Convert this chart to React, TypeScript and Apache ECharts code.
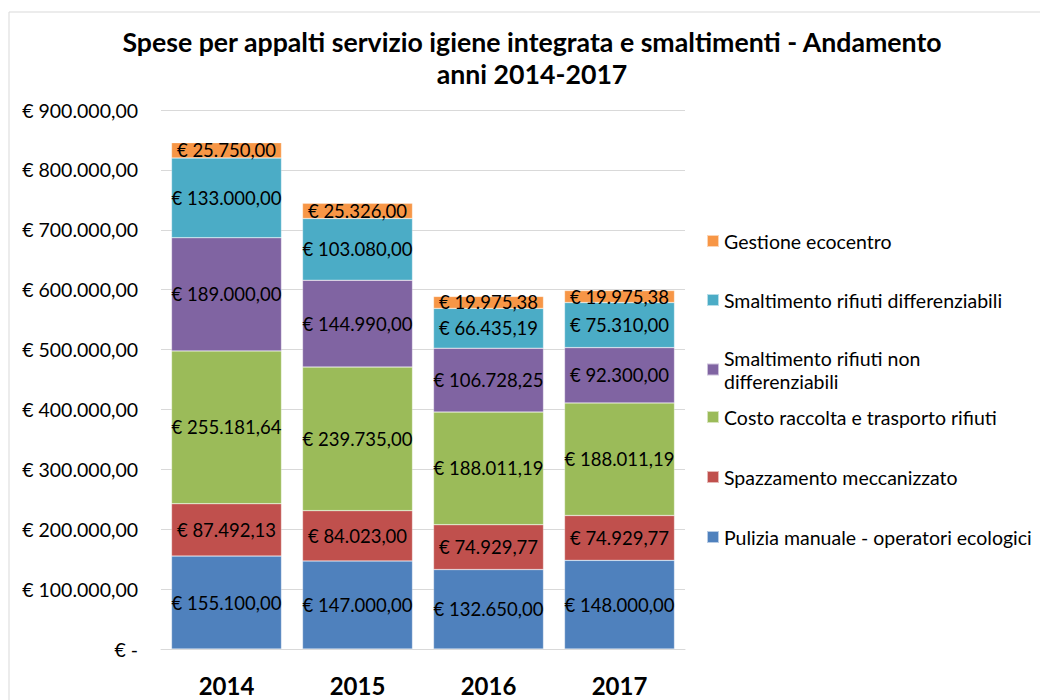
import React, { useEffect, useRef } from "react";
import * as echarts from "echarts";

const categories = ["2014", "2015", "2016", "2017"];
const seriesNames = [
  "Pulizia manuale - operatori ecologici",
  "Spazzamento meccanizzato",
  "Costo raccolta e trasporto rifiuti",
  "Smaltimento rifiuti non differenziabili",
  "Smaltimento rifiuti differenziabili",
  "Gestione ecocentro",
];
const pulizia = [155100, 147000, 132650, 148000];
const spazzamento = [87492.13, 84023, 74929.77, 74929.77];
const costoRaccolta = [255181.64, 239735, 188011.19, 188011.19];
const smaltNonDiff = [189000, 144990, 106728.25, 92300];
const smaltDiff = [133000, 103080, 66435.19, 75310];
const gestione = [25750, 25326, 19975.38, 19975.38];
const seriesValues = [pulizia, spazzamento, costoRaccolta, smaltNonDiff, smaltDiff, gestione];
const colors = ["#4F81BD", "#C0504D", "#9BBB59", "#8064A2", "#4BACC6", "#F79646"];
const legendTops = [525.5, 465.5, 405.5, 346.5, 288.5, 229.5];

const FONT = "Lato";

function fmt(v: number, dec: number): string {
  if (v === 0) return "€ -";
  const fixed = v.toFixed(dec);
  const [intPart, decPart] = fixed.split(".");
  const withDots = intPart.replace(/\B(?=(\d{3})+(?!\d))/g, ".");
  return "€ " + withDots + (decPart ? "," + decPart : "");
}

export default function App() {
  const ref = useRef<HTMLDivElement>(null);
  useEffect(() => {
    if (!ref.current) return;
    const chart = echarts.init(ref.current, undefined, { renderer: "svg" });
    const legends = seriesNames.map((name, i) => ({
      data: [name],
      orient: "vertical",
      left: 706,
      top: legendTops[i],
      padding: 0,
      itemWidth: 12,
      itemHeight: 12,
      itemGap: 0,
      icon: "rect",
      selectedMode: false,
      formatter: (n: string) =>
        n === "Smaltimento rifiuti non differenziabili" ? "Smaltimento rifiuti non\ndifferenziabili" : n,
      textStyle: { fontFamily: FONT, fontSize: 19.5, color: "#000", lineHeight: 23 },
    }));
    chart.setOption({
      animation: false,
      backgroundColor: "#fff",
      color: colors,
      title: {
        text: "Spese per appalti servizio igiene integrata e smaltimenti - Andamento\nanni 2014-2017",
        left: 532,
        textAlign: "center",
        top: 26,
        padding: 0,
        textStyle: { fontFamily: FONT, fontSize: 26.7, fontWeight: "bold", color: "#000", lineHeight: 32 },
      },
      legend: legends,
      graphic: [
        {
          type: "rect",
          shape: { x: 9, y: 12, width: 1040, height: 700 },
          style: { fill: "none", stroke: "#d9d9d9", lineWidth: 1 },
          silent: true,
        },
      ],
      grid: { left: 161, right: 355, top: 110, bottom: 51, containLabel: false },
      xAxis: {
        type: "category",
        data: categories,
        axisLine: { show: true, lineStyle: { color: "#d9d9d9" } },
        axisTick: { show: false },
        axisLabel: { fontFamily: FONT, fontSize: 24, fontWeight: "bold", color: "#000", margin: 24 },
      },
      yAxis: {
        type: "value",
        min: 0,
        max: 900000,
        interval: 100000,
        axisLine: { show: false },
        axisTick: { show: false },
        splitLine: { lineStyle: { color: "#d9d9d9" } },
        axisLabel: {
          fontFamily: FONT,
          fontSize: 19.5,
          color: "#000",
          margin: 23,
          formatter: (v: number) => fmt(v, 2),
        },
      },
      series: seriesNames.map((name, i) => ({
        name,
        type: "bar",
        stack: "total",
        barWidth: 110,
        data: seriesValues[i],
        itemStyle: { color: colors[i], borderColor: "rgba(255,255,255,0.6)", borderWidth: 0.5 },
        label: {
          show: true,
          position: "inside",
          fontFamily: FONT,
          fontSize: 18.5,
          color: "#000",
          formatter: (p: any) => fmt(p.value, 2),
        },
      })),
    });
    return () => chart.dispose();
  }, []);
  return <div ref={ref} style={{ width: 1040, height: 700, position: "absolute", left: 0, top: 0 }} />;
}
